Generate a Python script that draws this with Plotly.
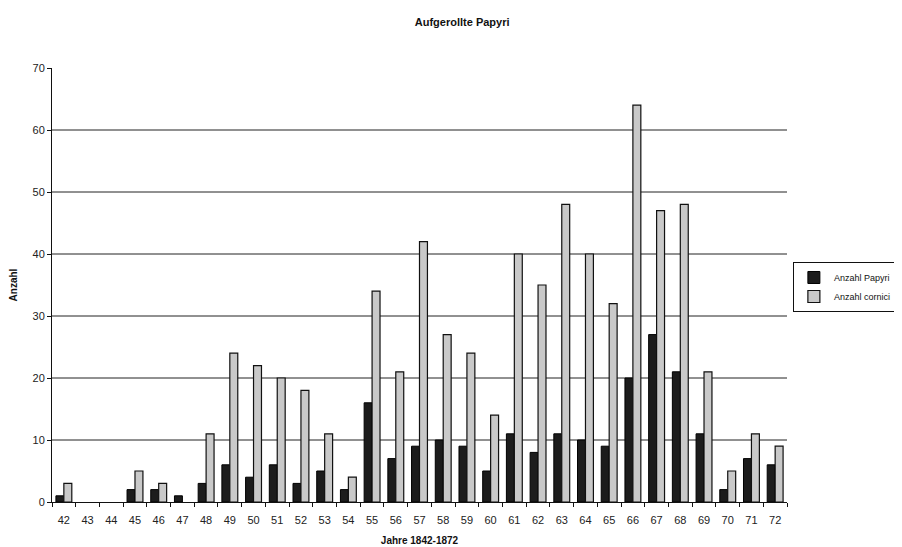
import plotly.graph_objects as go

years = ["42","43","44","45","46","47","48","49","50","51","52","53","54","55","56","57",
         "58","59","60","61","62","63","64","65","66","67","68","69","70","71","72"]
papyri = [1,0,0,2,2,1,3,6,4,6,3,5,2,16,7,9,10,9,5,11,8,11,10,9,20,27,21,11,2,7,6]
cornici = [3,0,0,5,3,0,11,24,22,20,18,11,4,34,21,42,27,24,14,40,35,48,40,32,64,47,48,21,5,11,9]
grid_vals = [10,20,30,40,50,60]

fnt = "Liberation Sans, Arial, sans-serif"

def nz(vals):
    return [v if v else None for v in vals]

fig = go.Figure()
fig.add_bar(x=years, y=nz(papyri), name="Anzahl Papyri",
            marker=dict(color="#1c1c1c", line=dict(color="#000", width=1)))
fig.add_bar(x=years, y=nz(cornici), name="Anzahl cornici",
            marker=dict(color="#c9c9c9", line=dict(color="#111", width=1.2)))

for g in grid_vals:
    fig.add_shape(type="line", xref="paper", yref="y", x0=0, x1=1, y0=g, y1=g,
                  line=dict(color="#222", width=1), layer="below")

fig.update_layout(
    width=894, height=539,
    margin=dict(l=44, r=115, t=60, b=45, autoexpand=False),
    paper_bgcolor="white", plot_bgcolor="white",
    barmode="group", bargap=0.33, bargroupgap=0.0,
    font=dict(family=fnt, size=11, color="#222"),
    title=dict(text="<b>Aufgerollte Papyri</b>", x=0.508, xanchor="center",
               y=0.974, yanchor="middle", font=dict(size=11, color="#111")),
    legend=dict(x=1.008, y=0.553, xanchor="left", yanchor="top",
                bordercolor="#111", borderwidth=1, font=dict(size=9, color="#111"),
                itemwidth=30, tracegroupgap=0, bgcolor="white"),
    xaxis=dict(type="category", showline=True, linecolor="#111", linewidth=1,
               ticks="outside", tickson="boundaries", ticklen=4, tickcolor="#111",
               ticklabelstandoff=8,
               showgrid=False, range=[-0.5, 30.5],
               title=dict(text="<b>Jahre 1842-1872</b>", font=dict(size=10, color="#111"), standoff=11)),
    yaxis=dict(range=[0, 70], dtick=10, showline=True, linecolor="#111", linewidth=1,
               ticks="outside", ticklen=4, tickcolor="#111", showgrid=False, zeroline=False,
               title=dict(text="<b>Anzahl</b>", font=dict(size=10, color="#111"), standoff=18)),
)

fig.write_html("out.html")
